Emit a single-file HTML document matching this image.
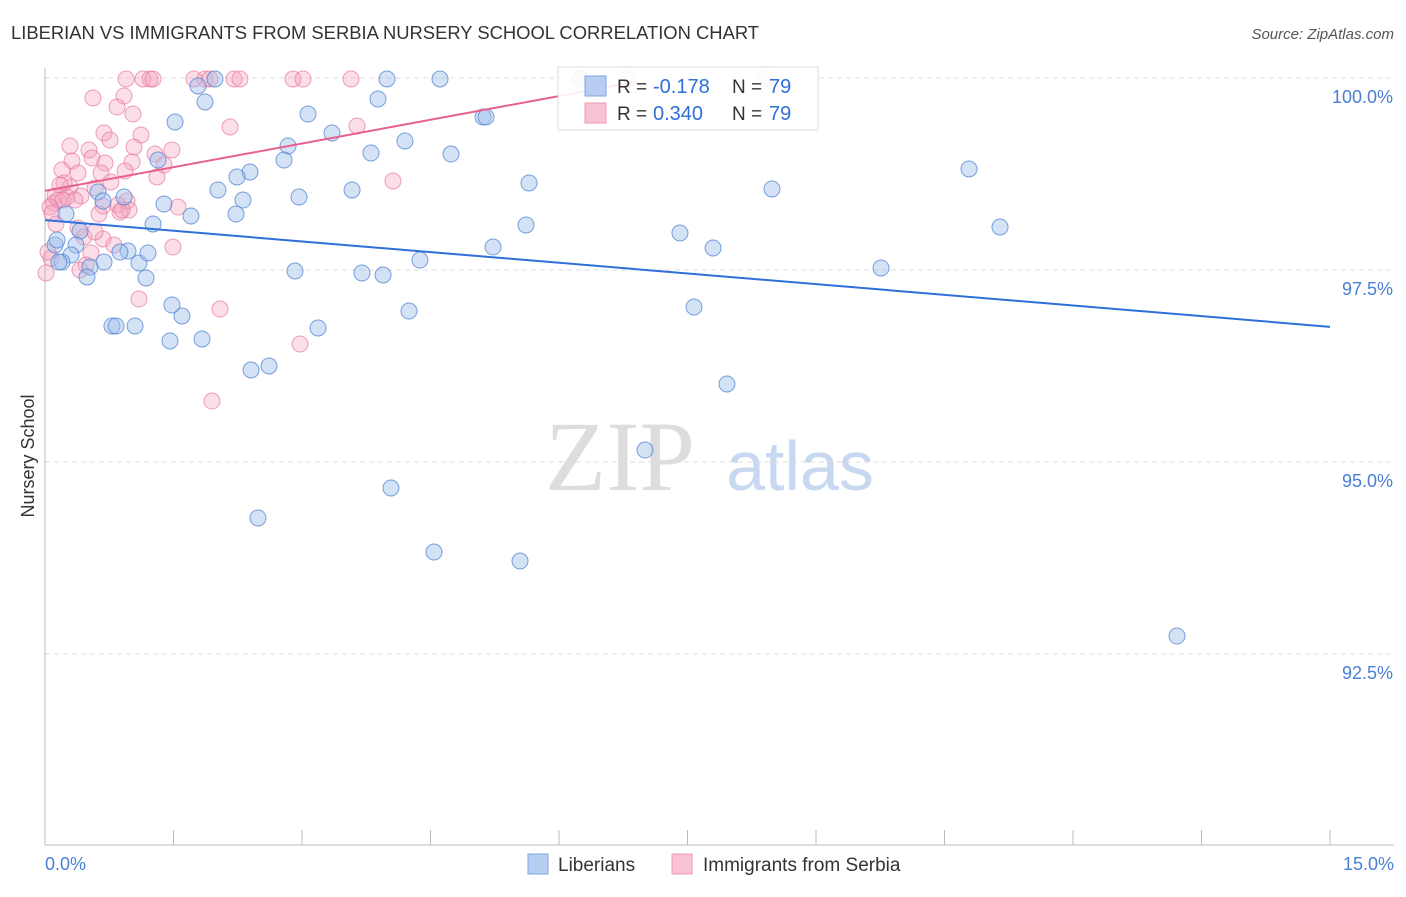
<!DOCTYPE html>
<html><head><meta charset="utf-8"><style>
body{margin:0;background:#fff;font-family:"Liberation Sans",sans-serif}
</style></head><body>
<svg id="c" width="1406" height="892" xmlns="http://www.w3.org/2000/svg" font-family="Liberation Sans, sans-serif"></svg>
<script>
const blueXpx=[580,440,387,215,198,205,175,308,378,483,486,332,405,288,284,371,451,158,250,237,218,243,164,191,236,153,299,352,529,526,493,680,713,772,969,1000,881,694,727,645,391,434,520,258,1177,420,383,362,295,318,269,251,409,202,182,170,172,135,112,116,139,146,148,128,120,104,90,87,80,76,71,62,55,57,66,98,103,124,59];
const blueYpx=[79,79,79,79,86,102,122,114,99,117,117,133,141,146,160,153,154,160,172,177,190,200,204,216,214,224,197,190,183,225,247,233,248,189,169,227,268,307,384,450,488,552,561,518,636,260,275,273,271,328,366,370,311,339,316,341,305,326,326,326,263,278,253,251,252,262,267,277,231,245,255,262,245,240,214,192,201,197,262];
const pinkXpx=[126,143,150,153,194,205,210,234,240,293,303,351,627,766,93,124,117,133,230,104,141,110,70,89,134,172,155,72,92,105,132,164,62,78,101,125,157,111,70,95,55,67,81,54,58,63,75,103,118,127,129,50,52,99,120,178,393,357,78,56,84,103,114,173,91,51,86,80,46,139,220,300,212,64,122,48,95,60];
const pinkYpx=[79,79,79,79,79,79,79,79,79,79,79,79,79,79,98,96,107,114,127,133,135,140,146,150,147,150,154,161,158,163,162,165,170,173,173,171,177,182,187,188,196,197,196,203,200,200,200,206,205,201,210,207,213,214,212,207,181,126,228,224,237,239,245,247,253,258,265,270,273,299,309,344,401,183,210,252,232,185];
// convert read pixel positions to data values (percent)
const blueX=blueXpx.map(p=>+((p-45)/1285*15).toFixed(3));
const blueY=blueYpx.map(p=>+(100-(p-78)/76.8).toFixed(3));
const pinkX=pinkXpx.map(p=>+((p-45)/1285*15).toFixed(3));
const pinkY=pinkYpx.map(p=>+(100-(p-78)/76.8).toFixed(3));
const yTicks=[100,97.5,95,92.5];
const yTickLabels=["100.0%","97.5%","95.0%","92.5%"];
const blueTrend=[[0,98.15],[15,96.76]];
const pinkTrend=[[0,98.53],[6.9,99.95]];

const sx=v=>45+v/15*1285, sy=v=>78+(100-v)*76.8;
const svg=document.getElementById('c');const NS='http://www.w3.org/2000/svg';
function mk(t,a,txt){const e=document.createElementNS(NS,t);for(const k in a)e.setAttribute(k,a[k]);if(txt!=null)e.textContent=txt;svg.appendChild(e);return e;}
let e;
e=mk('text',{x:11,y:39,'font-size':18.4,fill:'#333'},'LIBERIAN VS IMMIGRANTS FROM SERBIA NURSERY SCHOOL CORRELATION CHART');

e=mk('text',{x:1394,y:39,'font-size':15,fill:'#555','text-anchor':'end','font-style':'italic'},'Source: ZipAtlas.com');

e=mk('text',{x:620,y:490,'font-size':100,fill:'#ddd','text-anchor':'middle','font-family':'Liberation Serif, serif'},'ZIP');

e=mk('text',{x:800,y:490,'font-size':70,fill:'#c8d8f0','text-anchor':'middle'},'atlas');

yTicks.forEach((v,i)=>{
 e=mk('line',{x1:45,x2:1394,y1:sy(v),y2:sy(v),stroke:'#ddd','stroke-dasharray':'5,4'});
 
 e=mk('text',{x:1393,y:sy(v)+25,'font-size':18,fill:'#4a7fd6','text-anchor':'end'},yTickLabels[i]);
 
});
e=mk('line',{x1:45,x2:45,y1:68,y2:845,stroke:'#bbb'});
e=mk('line',{x1:45,x2:1394,y1:845,y2:845,stroke:'#bbb'});
for(let i=0;i<=10;i++){e=mk('line',{x1:sx(i*1.5),x2:sx(i*1.5),y1:830,y2:845,stroke:'#bbb'});}
e=mk('text',{x:45,y:870,'font-size':18,fill:'#4a7fd6'},'0.0%');
e=mk('text',{x:1394,y:870,'font-size':18,fill:'#4a7fd6','text-anchor':'end'},'15.0%');
e=mk('text',{x:34,y:456,'font-size':18,fill:'#333','text-anchor':'middle',transform:'rotate(-90 34 456)'},'Nursery School');

pinkX.forEach((x,i)=>{e=mk('circle',{cx:sx(x),cy:sy(pinkY[i]),r:8,fill:'rgba(243,160,188,0.35)',stroke:'rgba(232,120,160,0.7)','stroke-width':1});
 });
blueX.forEach((x,i)=>{e=mk('circle',{cx:sx(x),cy:sy(blueY[i]),r:8,fill:'rgba(160,190,236,0.45)',stroke:'rgba(80,130,210,0.75)','stroke-width':1});
 });
e=mk('line',{x1:sx(blueTrend[0][0]),y1:sy(blueTrend[0][1]),x2:sx(blueTrend[1][0]),y2:sy(blueTrend[1][1]),stroke:'#2e6fd8','stroke-width':2});

e=mk('line',{x1:sx(pinkTrend[0][0]),y1:sy(pinkTrend[0][1]),x2:sx(pinkTrend[1][0]),y2:sy(pinkTrend[1][1]),stroke:'#e8608f','stroke-width':2});

// stats legend
e=mk('rect',{x:558,y:67,width:260,height:63,fill:'rgba(255,255,255,0.9)',stroke:'#ddd'});
e=mk('rect',{x:585,y:76,width:21,height:20,fill:'#b7cdf2',stroke:'#7fa6e3'});
e=mk('rect',{x:585,y:103,width:21,height:20,fill:'#f8c2d4',stroke:'#ee9ab7'});
[[93,'-0.178'],[120,'0.340']].forEach(([y,r])=>{
 e=mk('text',{x:617,y:y,'font-size':19,fill:'#333'},'R = ');
 e=mk('text',{x:653,y:y,'font-size':20,fill:'#2e6fd8'},r);
 e=mk('text',{x:732,y:y,'font-size':19,fill:'#333'},'N = ');
 e=mk('text',{x:769,y:y,'font-size':20,fill:'#2e6fd8'},'79');
});
// bottom legend
e=mk('rect',{x:528,y:854,width:20,height:20,fill:'#b7cdf2',stroke:'#7fa6e3'});
e=mk('text',{x:558,y:871,'font-size':19,fill:'#333'},'Liberians');
e=mk('rect',{x:672,y:854,width:20,height:20,fill:'#f8c2d4',stroke:'#ee9ab7'});
e=mk('text',{x:703,y:871,'font-size':19,fill:'#333'},'Immigrants from Serbia');
</script>
</body></html>
